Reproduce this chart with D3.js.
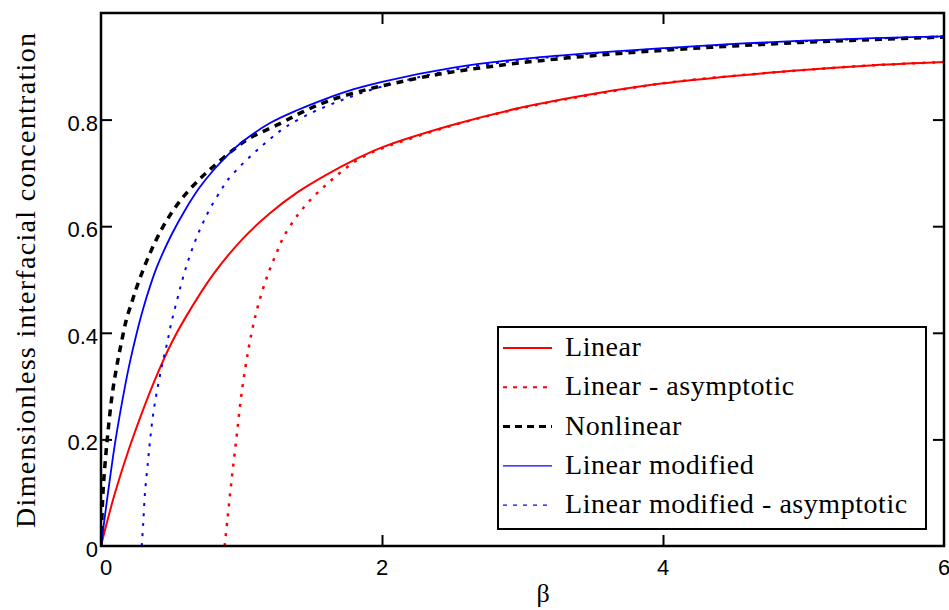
<!DOCTYPE html>
<html>
<head>
<meta charset="utf-8">
<script src="https://cdn.jsdelivr.net/npm/d3@7/dist/d3.min.js"></script>
<style>
  html, body { margin: 0; padding: 0; background: #fff; }
  svg { display: block; }
</style>
</head>
<body>
<svg id="chart" width="949" height="610"></svg>
<script>
// Interfacial concentration versus beta for the different models

const linearBeta = [0, 0.05, 0.1, 0.2, 0.3, 0.4, 0.5, 0.6, 0.8, 1.0, 1.2, 1.4, 1.6, 1.8, 2.0, 2.5, 3.0, 3.5, 4.0, 4.5, 5.0, 5.5, 6.0];
const linearC    = [0, 0.052, 0.1, 0.183, 0.256, 0.322, 0.38, 0.428, 0.51, 0.574, 0.624, 0.664, 0.696, 0.724, 0.748, 0.79, 0.823, 0.848, 0.868, 0.882, 0.893, 0.902, 0.908];

const linearAsymBeta = [0.88, 0.9, 0.93, 0.965, 1.0, 1.05, 1.1, 1.15, 1.2, 1.25, 1.3, 1.4, 1.5, 1.6, 1.7, 1.8, 1.9, 2.0, 2.5, 3.0, 3.5, 4.0, 4.5, 5.0, 5.5, 6.0];
const linearAsymC    = [0, 0.05, 0.125, 0.205, 0.285, 0.37, 0.433, 0.48, 0.518, 0.55, 0.58, 0.621, 0.652, 0.677, 0.7, 0.72, 0.735, 0.746, 0.789, 0.822, 0.847, 0.868, 0.882, 0.893, 0.902, 0.908];

const nonlinearBeta = [0, 0.014, 0.03, 0.05, 0.08, 0.11, 0.14, 0.18, 0.22, 0.26, 0.35, 0.45, 0.57, 0.7, 0.8, 0.95, 1.05, 1.27, 1.44, 1.63, 1.9, 2.1, 2.4, 2.7, 3.0, 3.5, 4.0, 4.5, 5.0, 5.5, 6.0];
const nonlinearC    = [0, 0.1, 0.158, 0.215, 0.285, 0.334, 0.375, 0.424, 0.458, 0.49, 0.55, 0.603, 0.65, 0.688, 0.712, 0.745, 0.764, 0.792, 0.815, 0.836, 0.857, 0.869, 0.885, 0.897, 0.907, 0.92, 0.93, 0.938, 0.945, 0.95, 0.955];

const modBeta = [0, 0.05, 0.1, 0.15, 0.2, 0.25, 0.3, 0.35, 0.4, 0.5, 0.6, 0.7, 0.8, 0.9, 1.0, 1.2, 1.4, 1.6, 1.8, 2.0, 2.5, 3.0, 3.5, 4.0, 4.5, 5.0, 5.5, 6.0];
const modC    = [0, 0.1, 0.193, 0.27, 0.338, 0.395, 0.445, 0.488, 0.525, 0.583, 0.631, 0.672, 0.705, 0.733, 0.757, 0.793, 0.818, 0.839, 0.857, 0.871, 0.897, 0.914, 0.925, 0.934, 0.942, 0.948, 0.953, 0.956];

const modAsymBeta = [0.29, 0.3, 0.313, 0.335, 0.35, 0.37, 0.4, 0.435, 0.47, 0.5, 0.54, 0.58, 0.62, 0.67, 0.72, 0.78, 0.86, 0.9, 1.0, 1.1, 1.2, 1.32, 1.5, 1.65, 1.8, 2.0, 2.5, 3.0, 3.5, 4.0, 4.5, 5.0, 5.5, 6.0];
const modAsymC    = [0, 0.04, 0.1, 0.16, 0.2, 0.245, 0.293, 0.34, 0.38, 0.418, 0.46, 0.5, 0.535, 0.572, 0.603, 0.635, 0.67, 0.686, 0.715, 0.74, 0.763, 0.787, 0.813, 0.83, 0.845, 0.862, 0.893, 0.912, 0.924, 0.933, 0.941, 0.947, 0.952, 0.956];

const xTicks = [0, 2, 4, 6];
const yTicks = [0, 0.2, 0.4, 0.6, 0.8];

const seriesNames = ["Linear", "Linear - asymptotic", "Nonlinear", "Linear modified", "Linear modified - asymptotic"];

const series = [
  { name: seriesNames[0], xs: linearBeta,     ys: linearC,     color: "#ff0000", width: 2,   dash: null },
  { name: seriesNames[1], xs: linearAsymBeta, ys: linearAsymC, color: "#ff0000", width: 2.5, dash: "3,7" },
  { name: seriesNames[2], xs: nonlinearBeta,  ys: nonlinearC,  color: "#000000", width: 3.5, dash: "7,6" },
  { name: seriesNames[3], xs: modBeta,        ys: modC,        color: "#0000ff", width: 1.8, dash: null },
  { name: seriesNames[4], xs: modAsymBeta,    ys: modAsymC,    color: "#0000ff", width: 2,   dash: "3,7" }
];

const svg = d3.select("#chart");
const plotLeft = 101, plotRight = 944, plotTop = 13, plotBottom = 546;

const x = d3.scaleLinear().domain([0, 6]).range([plotLeft, plotRight]);
const y = d3.scaleLinear().domain([0, 1]).range([plotBottom, plotTop]);

svg.append("defs").append("clipPath").attr("id", "plotClip")
  .append("rect").attr("x", plotLeft).attr("y", plotTop)
  .attr("width", plotRight - plotLeft).attr("height", plotBottom - plotTop);

// curves
const line = d3.line()
  .x(d => x(d[0])).y(d => y(d[1]))
  .curve(d3.curveCatmullRom.alpha(0.5));

const plot = svg.append("g").attr("clip-path", "url(#plotClip)");
// solid blue goes on top of the dashed black
const drawOrder = [0, 1, 4, 2, 3];
drawOrder.forEach(i => {
  const s = series[i];
  const pts = s.xs.map((b, k) => [b, s.ys[k]]);
  plot.append("path")
    .attr("d", line(pts))
    .attr("fill", "none")
    .attr("stroke", s.color)
    .attr("stroke-width", s.width)
    .attr("stroke-dasharray", s.dash)
    .attr("stroke-linejoin", "round");
});

// frame and inward ticks on all four sides
const tickLen = 11;
const axisColor = "#000";
svg.append("g")
  .attr("transform", `translate(0,${plotBottom})`)
  .call(d3.axisBottom(x).tickValues(xTicks.slice(1, -1)).tickSize(-tickLen).tickFormat(""))
  .call(g => g.select(".domain").remove())
  .selectAll("line").attr("stroke", axisColor).attr("stroke-width", 2);
svg.append("g")
  .attr("transform", `translate(0,${plotTop})`)
  .call(d3.axisTop(x).tickValues(xTicks.slice(1, -1)).tickSize(-tickLen).tickFormat(""))
  .call(g => g.select(".domain").remove())
  .selectAll("line").attr("stroke", axisColor).attr("stroke-width", 2);
svg.append("g")
  .attr("transform", `translate(${plotLeft},0)`)
  .call(d3.axisLeft(y).tickValues(yTicks.slice(1)).tickSize(-tickLen).tickFormat(""))
  .call(g => g.select(".domain").remove())
  .selectAll("line").attr("stroke", axisColor).attr("stroke-width", 2);
svg.append("g")
  .attr("transform", `translate(${plotRight},0)`)
  .call(d3.axisRight(y).tickValues(yTicks.slice(1)).tickSize(-tickLen).tickFormat(""))
  .call(g => g.select(".domain").remove())
  .selectAll("line").attr("stroke", axisColor).attr("stroke-width", 2);

svg.append("rect")
  .attr("x", plotLeft).attr("y", plotTop)
  .attr("width", plotRight - plotLeft).attr("height", plotBottom - plotTop)
  .attr("fill", "none").attr("stroke", axisColor).attr("stroke-width", 2.5);

// tick labels
const tickFont = "'Liberation Sans', Arial, sans-serif";
svg.append("g").selectAll("text").data(xTicks).join("text")
  .attr("x", d => x(d) + (d === 0 ? 5 : 0))
  .attr("y", plotBottom + 29)
  .attr("text-anchor", "middle")
  .attr("font-family", tickFont).attr("font-size", 22)
  .attr("fill", "#000")
  .text(d => d3.format("d")(d));
svg.append("g").selectAll("text").data(yTicks).join("text")
  .attr("x", plotLeft - 3)
  .attr("y", d => y(d) + 11)
  .attr("text-anchor", "end")
  .attr("font-family", tickFont).attr("font-size", 22)
  .attr("fill", "#000")
  .text(d => d === 0 ? "0" : d3.format(".1f")(d));

// axis titles
const serif = "'Liberation Serif', 'Times New Roman', serif";
svg.append("text")
  .attr("transform", `translate(35,${(plotTop + plotBottom) / 2 + 1}) rotate(-90)`)
  .attr("text-anchor", "middle")
  .attr("font-family", serif).attr("font-size", 28)
  .attr("textLength", 495).attr("lengthAdjust", "spacing")
  .text("Dimensionless interfacial concentration");
svg.append("text")
  .attr("x", 543).attr("y", 602)
  .attr("text-anchor", "middle")
  .attr("font-family", serif).attr("font-size", 26)
  .text("β");

// legend
const legend = svg.append("g");
legend.append("rect")
  .attr("x", 498).attr("y", 327).attr("width", 428).attr("height", 202)
  .attr("fill", "#fff").attr("stroke", "#000").attr("stroke-width", 2);
const legendStyles = [
  { width: 2,   dash: null },
  { width: 2,   dash: "4,6" },
  { width: 3,   dash: "7,5" },
  { width: 1.2, dash: null },
  { width: 1.2, dash: "4,6" }
];
series.forEach((s, i) => {
  const cy = 348 + i * 39.3;
  legend.append("line")
    .attr("x1", 503).attr("x2", 552).attr("y1", cy).attr("y2", cy)
    .attr("stroke", s.color)
    .attr("stroke-width", legendStyles[i].width)
    .attr("stroke-dasharray", legendStyles[i].dash);
  legend.append("text")
    .attr("x", 565).attr("y", cy + 8)
    .attr("font-family", serif).attr("font-size", 28)
    .attr("letter-spacing", 0.55)
    .attr("fill", "#000")
    .text(s.name);
});
</script>
</body>
</html>
